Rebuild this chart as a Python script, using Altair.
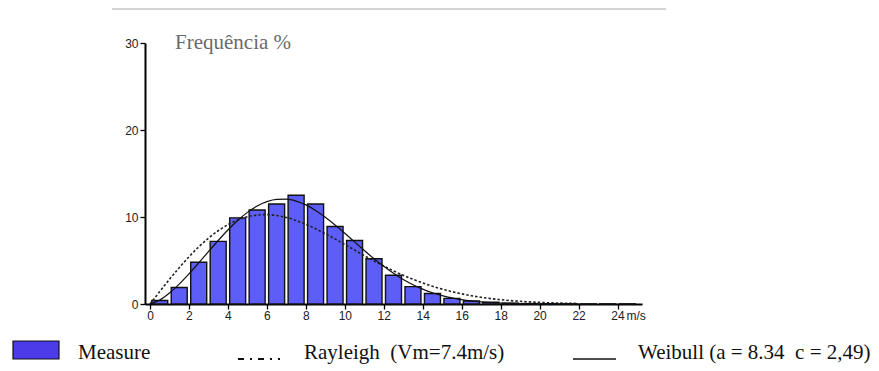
import altair as alt
import pandas as pd

# ---- data ----
bin_start = list(range(25))  # m/s classes [k, k+1)
measure = [0.4, 1.9, 4.8, 7.2, 9.9, 10.8, 11.5, 12.5, 11.5, 8.9, 7.3, 5.2, 3.3,
           2.0, 1.2, 0.65, 0.35, 0.2, 0.1, 0.05, 0.03, 0.02, 0.02, 0.02, 0.02]

curve_v = [0, 0.5, 1, 1.5, 2, 2.5, 3, 3.5, 4, 4.5, 5, 5.5, 6, 6.5, 7, 7.5, 8, 8.5,
           9, 9.5, 10, 10.5, 11, 11.5, 12, 12.5, 13, 13.5, 14, 14.5, 15, 15.5, 16,
           16.5, 17, 17.5, 18, 18.5, 19, 19.5, 20, 20.5, 21, 21.5, 22]
weibull = [0, 0.45, 1.26, 2.28, 3.46, 4.72, 6.02, 7.30, 8.51, 9.60, 10.53, 11.26,
           11.77, 12.03, 12.05, 11.83, 11.39, 10.76, 9.98, 9.09, 8.13, 7.14, 6.15,
           5.20, 4.33, 3.53, 2.82, 2.22, 1.71, 1.29, 0.96, 0.70, 0.50, 0.35, 0.24,
           0.16, 0.11, 0.07, 0.04, 0.03, 0.02, 0.01, 0.005, 0.003, 0.0015]
rayleigh = [0, 1.43, 2.83, 4.17, 5.42, 6.56, 7.56, 8.42, 9.12, 9.65, 10.02, 10.22,
            10.27, 10.17, 9.94, 9.60, 9.16, 8.65, 8.08, 7.47, 6.84, 6.20, 5.56, 4.95,
            4.36, 3.81, 3.30, 2.84, 2.42, 2.04, 1.71, 1.42, 1.17, 0.95, 0.77, 0.62,
            0.50, 0.39, 0.31, 0.24, 0.19, 0.14, 0.11, 0.08, 0.06]

y_ticks = [0, 10, 20, 30]
x_ticks = list(range(0, 26))

title_text = "Frequência %"
unit_text = "m/s"
legend_measure = "Measure"
legend_rayleigh = "Rayleigh\u00a0\u00a0(Vm=7.4m/s)"
legend_weibull = "Weibull (a = 8.34\u00a0\u00a0c = 2,49)"

# ---- tables ----
bars_df = pd.DataFrame({"start": bin_start, "value": measure})
curves_df = pd.DataFrame({"v": curve_v, "weibull": weibull, "rayleigh": rayleigh})
one = pd.DataFrame({"a": [0]})

W, H = 497, 261
SERIF = "Liberation Serif"
SANS = "Liberation Sans"

xscale = alt.Scale(domain=[0, 25], nice=False, zero=True)
yscale = alt.Scale(domain=[0, 30], nice=False)

x_axis = alt.Axis(values=x_ticks, title=None,
                  labelExpr="(datum.value % 2 == 0 && datum.value <= 24) ? datum.label : ''",
                  labelOverlap=False, labelFlush=False, tickSize=5, labelPadding=1)
y_axis = alt.Axis(values=y_ticks, title=None, tickSize=5, labelPadding=2,
                  labelOverlap=False, labelFlush=False)

bars = alt.Chart(bars_df).transform_calculate(
    center="datum.start + 0.5"
).mark_bar(color="#5d5df7", stroke="#111111", strokeWidth=1.4, size=16).encode(
    x=alt.X("center:Q", scale=xscale, axis=x_axis),
    y=alt.Y("value:Q", scale=yscale, axis=y_axis),
)

ray_line = alt.Chart(curves_df).mark_line(
    color="#222222", strokeWidth=1.6, strokeDash=[2.5, 2], interpolate="monotone"
).encode(x=alt.X("v:Q", scale=xscale), y=alt.Y("rayleigh:Q", scale=yscale))

wei_line = alt.Chart(curves_df).mark_line(
    color="#111111", strokeWidth=1.2, interpolate="monotone"
).encode(x=alt.X("v:Q", scale=xscale), y=alt.Y("weibull:Q", scale=yscale))

unit = alt.Chart(pd.DataFrame({"x": [24], "y": [0], "t": [unit_text]})).mark_text(
    font=SANS, fontSize=12, align="left", baseline="top", dx=9, dy=7, color="#222222"
).encode(x=alt.X("x:Q", scale=xscale), y=alt.Y("y:Q", scale=yscale), text="t:N")

title = alt.Chart(one).mark_text(
    text=title_text, font=SERIF, fontSize=21, color="#6a6a6a", align="left",
    baseline="alphabetic"
).encode(x=alt.value(30), y=alt.value(6))

top_rule = alt.Chart(one).mark_rule(color="#a8a8a8", strokeWidth=1).encode(
    x=alt.value(-33), x2=alt.value(521), y=alt.value(-34))

leg_rect = alt.Chart(one).mark_rect(color="#4b3be8", stroke="#111111", strokeWidth=1.2).encode(
    x=alt.value(-132), x2=alt.value(-86), y=alt.value(298), y2=alt.value(316))

leg_ray = alt.Chart(one).mark_rule(color="#111111", strokeWidth=1.8,
                                   strokeDash=[6, 6, 2, 6, 6, 6, 2, 6, 2, 60]).encode(
    x=alt.value(93), x2=alt.value(145), y=alt.value(316))

leg_wei = alt.Chart(one).mark_rule(color="#111111", strokeWidth=1.6).encode(
    x=alt.value(428), x2=alt.value(471), y=alt.value(316))

def leg_text(txt, x):
    return alt.Chart(one).mark_text(
        text=txt, font=SERIF, fontSize=21, color="#111111", align="left",
        baseline="alphabetic"
    ).encode(x=alt.value(x), y=alt.value(316))

chart = alt.layer(
    bars, ray_line, wei_line, unit, title, top_rule,
    leg_rect, leg_ray, leg_wei,
    leg_text(legend_measure, -67), leg_text(legend_rayleigh, 159), leg_text(legend_weibull, 493),
).properties(
    width=W, height=H,
    autosize=alt.AutoSizeParams(type="none"),
    padding={"left": 145, "top": 43, "right": 237, "bottom": 67},
    background="white",
).configure_view(stroke=None).configure_axis(
    grid=False, domainColor="#000000", domainWidth=2, tickColor="#000000",
    tickWidth=1.3, labelFont=SANS, labelFontSize=12, labelColor="#222222",
)

chart.save("out.html", embed_options={"renderer": "svg", "actions": False})
